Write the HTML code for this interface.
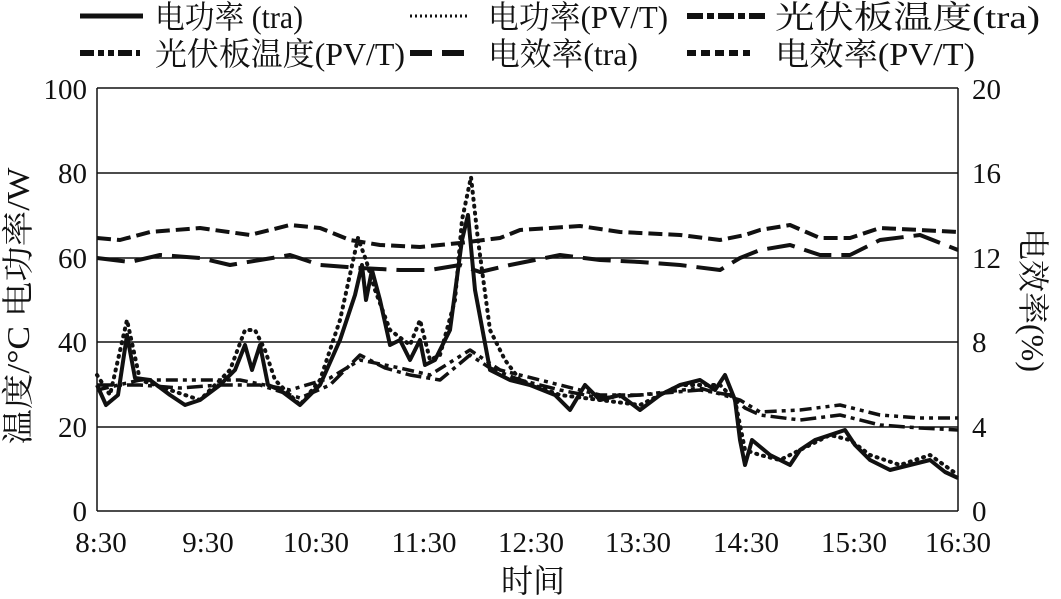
<!DOCTYPE html><html><head><meta charset="utf-8"><style>body{margin:0;background:#fff}svg{display:block}text{font-family:"Liberation Serif","Noto Serif CJK SC",serif;font-size:29px;fill:#111}.lg{font-size:32px}</style></head><body>
<svg width="1061" height="599" viewBox="0 0 1061 599">
<g stroke="#111" stroke-width="1.5" fill="none">
<line x1="97" y1="88" x2="958" y2="88"/><line x1="97" y1="173" x2="958" y2="173"/><line x1="97" y1="258" x2="958" y2="258"/><line x1="97" y1="342" x2="958" y2="342"/><line x1="97" y1="427" x2="958" y2="427"/><line x1="97" y1="511" x2="958" y2="511"/>
<line x1="97" y1="88" x2="97" y2="511"/><line x1="958" y1="88" x2="958" y2="511"/>
</g>
<g text-anchor="end"><text x="87" y="99">100</text><text x="87" y="183">80</text><text x="87" y="268">60</text><text x="87" y="352">40</text><text x="87" y="437">20</text><text x="87" y="521">0</text></g>
<g><text x="972" y="99">20</text><text x="972" y="183">16</text><text x="972" y="268">12</text><text x="972" y="352">8</text><text x="972" y="437">4</text><text x="972" y="521">0</text></g>
<g text-anchor="middle"><text x="101" y="552">8:30</text><text x="208" y="552">9:30</text><text x="316" y="552">10:30</text><text x="424" y="552">11:30</text><text x="531" y="552">12:30</text><text x="638" y="552">13:30</text><text x="746" y="552">14:30</text><text x="854" y="552">15:30</text><text x="958" y="552">16:30</text>
<text x="533" y="592" class="lg">时间</text>
<text class="lg" transform="translate(29,306) rotate(-90)" textLength="277" lengthAdjust="spacingAndGlyphs">温度/°C   电功率/W</text>
<text class="lg" transform="translate(1022,300) rotate(90)">电效率(%)</text></g>
<g fill="none" stroke="#111" stroke-linejoin="round">
<polyline stroke-width="4" stroke-dasharray="14,6" points="97,238 120,240 150,232 200,228 250,235 290,225 320,228 350,240 380,245 420,247 460,243 500,238 520,230 580,226 620,232 680,235 720,240 745,235 760,230 790,225 820,238 850,238 880,228 920,230 958,232"/>
<polyline stroke-width="4" stroke-dasharray="28,10" points="97,258 130,262 160,255 200,258 230,265 260,260 290,255 320,265 360,268 400,270 430,270 460,265 480,272 510,265 560,255 600,260 640,262 680,265 720,270 740,258 760,250 790,245 820,255 850,255 880,240 920,235 958,250"/>
<polyline stroke-width="3.5" stroke-dasharray="16,5,4,5" points="97,385 140,385 180,388 220,385 260,385 300,398 330,385 360,355 385,368 410,375 440,380 470,355 490,368 520,380 560,390 600,398 640,395 700,390 730,395 745,408 760,415 800,420 840,415 880,425 920,428 958,430"/>
<polyline stroke-width="3.5" stroke-dasharray="12,5,4,5,4,5" points="97,390 140,380 200,380 240,380 290,390 330,378 360,360 400,368 430,375 470,350 500,370 540,380 600,395 640,395 700,388 740,400 760,412 800,410 840,405 880,415 920,418 958,418"/>
<polyline stroke-width="4" stroke-dasharray="1,6" stroke-linecap="round" points="97,375 110,395 127,320 140,380 170,390 200,400 230,370 245,330 255,330 265,350 275,380 300,405 320,380 340,320 358,238 366,260 375,290 390,330 410,345 420,320 430,360 440,355 455,300 462,220 471,177 478,240 490,330 505,360 520,380 560,395 600,400 640,405 680,385 720,385 735,400 745,450 760,455 780,460 800,450 830,435 850,440 870,455 900,465 930,455 958,475"/>
<polyline stroke-width="4" points="97,385 106,405 118,395 127,335 135,378 150,380 170,395 185,405 200,400 220,385 235,370 245,345 252,370 260,345 268,385 280,390 300,405 320,385 340,340 355,295 362,265 366,300 372,270 380,300 390,345 400,340 410,360 420,340 425,365 435,360 450,330 462,240 468,215 475,290 490,370 510,380 530,385 555,395 570,410 585,385 600,400 620,395 640,410 660,395 680,385 700,380 715,390 725,375 735,400 740,440 745,465 752,440 770,455 790,465 800,450 815,440 830,435 845,430 855,445 870,460 890,470 910,465 930,460 945,472 958,478"/>
</g>
<g stroke="#111" stroke-width="6" fill="none">
<line x1="80" y1="16" x2="143" y2="16" stroke-width="5"/>
<line x1="410" y1="16" x2="470" y2="16" stroke-dasharray="2,3" stroke-width="3"/>
<line x1="687" y1="16" x2="767" y2="16" stroke-dasharray="16,4,7,4"/>
<line x1="80" y1="53" x2="140" y2="53" stroke-dasharray="14,4,6,4,6,4"/>
<line x1="410" y1="53" x2="473" y2="53" stroke-dasharray="22,10"/>
<line x1="687" y1="53" x2="750" y2="53" stroke-dasharray="9,5"/>
</g>
<text class="lg" x="155" y="28" textLength="148" lengthAdjust="spacingAndGlyphs">电功率 (tra)</text><text class="lg" x="488" y="28" textLength="180" lengthAdjust="spacingAndGlyphs">电功率(PV/T)</text><text class="lg" x="775" y="28" textLength="265" lengthAdjust="spacingAndGlyphs">光伏板温度(tra)</text>
<text class="lg" x="155" y="65" textLength="250" lengthAdjust="spacingAndGlyphs">光伏板温度(PV/T)</text><text class="lg" x="488" y="65" textLength="150" lengthAdjust="spacingAndGlyphs">电效率(tra)</text><text class="lg" x="775" y="65" textLength="200" lengthAdjust="spacingAndGlyphs">电效率(PV/T)</text>
</svg></body></html>
